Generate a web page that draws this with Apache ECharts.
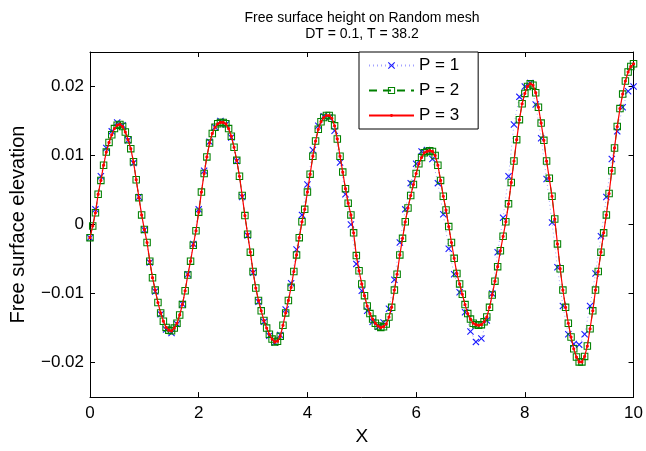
<!DOCTYPE html>
<html><head><meta charset="utf-8">
<script src="https://cdn.jsdelivr.net/npm/echarts@6/dist/echarts.min.js"></script>
<style>html,body{margin:0;padding:0;background:#fff}#c{width:646px;height:451px}</style>
</head><body><div id="c"></div>
<script>
// ---- data ----
const titleLines = ['Free surface height on Random mesh', 'DT = 0.1, T = 38.2'];
const seriesNames = ['P = 1', 'P = 2', 'P = 3'];
const xTicks = [0, 2, 4, 6, 8, 10];
const yTicks = [-0.02, -0.01, 0, 0.01, 0.02];

const xFine = [
0,0.05,0.1,0.15,0.2,0.25,0.3,0.35,0.4,0.45,
0.5,0.55,0.6,0.65,0.7,0.75,0.8,0.85,0.9,0.95,
1,1.05,1.1,1.15,1.2,1.25,1.3,1.35,1.4,1.45,
1.5,1.55,1.6,1.65,1.7,1.75,1.8,1.85,1.9,1.95,
2,2.05,2.1,2.15,2.2,2.25,2.3,2.35,2.4,2.45,
2.5,2.55,2.6,2.65,2.7,2.75,2.8,2.85,2.9,2.95,
3,3.05,3.1,3.15,3.2,3.25,3.3,3.35,3.4,3.45,
3.5,3.55,3.6,3.65,3.7,3.75,3.8,3.85,3.9,3.95,
4,4.05,4.1,4.15,4.2,4.25,4.3,4.35,4.4,4.45,
4.5,4.55,4.6,4.65,4.7,4.75,4.8,4.85,4.9,4.95,
5,5.05,5.1,5.15,5.2,5.25,5.3,5.35,5.4,5.45,
5.5,5.55,5.6,5.65,5.7,5.75,5.8,5.85,5.9,5.95,
6,6.05,6.1,6.15,6.2,6.25,6.3,6.35,6.4,6.45,
6.5,6.55,6.6,6.65,6.7,6.75,6.8,6.85,6.9,6.95,
7,7.05,7.1,7.15,7.2,7.25,7.3,7.35,7.4,7.45,
7.5,7.55,7.6,7.65,7.7,7.75,7.8,7.85,7.9,7.95,
8,8.05,8.1,8.15,8.2,8.25,8.3,8.35,8.4,8.45,
8.5,8.55,8.6,8.65,8.7,8.75,8.8,8.85,8.9,8.95,
9,9.05,9.1,9.15,9.2,9.25,9.3,9.35,9.4,9.45,
9.5,9.55,9.6,9.65,9.7,9.75,9.8,9.85,9.9,9.95,
10];

const p3Y = [
-0.0019,-0.0002,0.0017,0.0044,0.0064,0.0086,0.0105,0.0119,0.0130,0.0139,
0.0144,0.0145,0.0142,0.0134,0.0123,0.0110,0.0091,0.0065,0.0039,0.0014,
-0.0007,-0.0026,-0.0053,-0.0077,-0.0095,-0.0113,-0.0128,-0.0140,-0.0149,-0.0153,
-0.0154,-0.0150,-0.0143,-0.0131,-0.0116,-0.0096,-0.0073,-0.0053,-0.0030,-0.0009,
0.0018,0.0047,0.0074,0.0098,0.0118,0.0132,0.0141,0.0146,0.0148,0.0148,
0.0146,0.0139,0.0128,0.0112,0.0093,0.0070,0.0042,0.0013,-0.0014,-0.0040,
-0.0068,-0.0092,-0.0110,-0.0125,-0.0139,-0.0150,-0.0159,-0.0166,-0.0170,-0.0169,
-0.0162,-0.0146,-0.0128,-0.0110,-0.0091,-0.0068,-0.0044,-0.0019,0.0004,0.0022,
0.0047,0.0073,0.0099,0.0121,0.0138,0.0149,0.0155,0.0158,0.0158,0.0154,
0.0143,0.0124,0.0099,0.0076,0.0052,0.0031,0.0014,-0.0012,-0.0045,-0.0067,
-0.0086,-0.0103,-0.0118,-0.0129,-0.0137,-0.0143,-0.0147,-0.0149,-0.0148,-0.0144,
-0.0134,-0.0120,-0.0095,-0.0072,-0.0044,-0.0020,0.0004,0.0024,0.0042,0.0058,
0.0074,0.0088,0.0097,0.0104,0.0106,0.0107,0.0106,0.0100,0.0086,0.0064,
0.0041,0.0021,-0.0003,-0.0026,-0.0049,-0.0071,-0.0086,-0.0101,-0.0116,-0.0129,
-0.0137,-0.0143,-0.0145,-0.0146,-0.0145,-0.0141,-0.0134,-0.0120,-0.0102,-0.0082,
-0.0061,-0.0038,-0.0017,0.0004,0.0030,0.0061,0.0092,0.0123,0.0152,0.0175,
0.0190,0.0200,0.0204,0.0202,0.0191,0.0170,0.0147,0.0122,0.0092,0.0067,
0.0041,0.0008,-0.0028,-0.0064,-0.0095,-0.0120,-0.0143,-0.0163,-0.0180,-0.0192,
-0.0199,-0.0199,-0.0191,-0.0176,-0.0151,-0.0125,-0.0095,-0.0068,-0.0040,-0.0012,
0.0014,0.0045,0.0078,0.0111,0.0142,0.0168,0.0189,0.0208,0.0221,0.0229,
0.0233];

const p2Y = [
-0.0019,-0.0002,0.0017,0.0044,0.0064,0.0086,0.0105,0.0119,0.0130,0.0139,
0.0144,0.0145,0.0142,0.0134,0.0123,0.0110,0.0091,0.0065,0.0039,0.0014,
-0.0007,-0.0026,-0.0053,-0.0077,-0.0095,-0.0113,-0.0128,-0.0140,-0.0149,-0.0153,
-0.0154,-0.0150,-0.0143,-0.0131,-0.0116,-0.0096,-0.0073,-0.0053,-0.0030,-0.0009,
0.0018,0.0047,0.0074,0.0098,0.0118,0.0132,0.0141,0.0146,0.0148,0.0148,
0.0146,0.0139,0.0128,0.0112,0.0093,0.0070,0.0042,0.0013,-0.0014,-0.0040,
-0.0068,-0.0092,-0.0110,-0.0125,-0.0139,-0.0150,-0.0159,-0.0166,-0.0170,-0.0169,
-0.0162,-0.0146,-0.0128,-0.0110,-0.0091,-0.0068,-0.0044,-0.0019,0.0004,0.0022,
0.0047,0.0073,0.0099,0.0121,0.0138,0.0149,0.0155,0.0158,0.0158,0.0154,
0.0143,0.0124,0.0099,0.0076,0.0052,0.0031,0.0014,-0.0012,-0.0045,-0.0067,
-0.0086,-0.0103,-0.0118,-0.0129,-0.0137,-0.0143,-0.0147,-0.0149,-0.0148,-0.0144,
-0.0134,-0.0120,-0.0095,-0.0072,-0.0044,-0.0020,0.0004,0.0024,0.0042,0.0058,
0.0074,0.0088,0.0097,0.0104,0.0106,0.0107,0.0106,0.0100,0.0086,0.0064,
0.0041,0.0021,-0.0003,-0.0026,-0.0049,-0.0071,-0.0086,-0.0101,-0.0116,-0.0129,
-0.0137,-0.0143,-0.0145,-0.0146,-0.0145,-0.0141,-0.0134,-0.0120,-0.0102,-0.0082,
-0.0061,-0.0038,-0.0017,0.0004,0.0030,0.0061,0.0092,0.0123,0.0152,0.0175,
0.0190,0.0200,0.0204,0.0202,0.0191,0.0170,0.0147,0.0122,0.0092,0.0067,
0.0041,0.0008,-0.0028,-0.0064,-0.0095,-0.0120,-0.0143,-0.0163,-0.0180,-0.0192,
-0.0199,-0.0199,-0.0191,-0.0176,-0.0151,-0.0125,-0.0095,-0.0068,-0.0040,-0.0012,
0.0014,0.0045,0.0078,0.0111,0.0142,0.0168,0.0189,0.0208,0.0221,0.0229,
0.0233];

const xCoarse = [
0,0.1,0.2,0.3,0.4,0.5,0.6,0.7,0.8,0.9,
1,1.1,1.2,1.3,1.4,1.5,1.6,1.7,1.8,1.9,
2,2.1,2.2,2.3,2.4,2.5,2.6,2.7,2.8,2.9,
3,3.1,3.2,3.3,3.4,3.5,3.6,3.7,3.8,3.9,
4,4.1,4.2,4.3,4.4,4.5,4.6,4.7,4.8,4.9,
5,5.1,5.2,5.3,5.4,5.5,5.6,5.7,5.8,5.9,
6,6.1,6.2,6.3,6.4,6.5,6.6,6.7,6.8,6.9,
7,7.1,7.2,7.3,7.4,7.5,7.6,7.7,7.8,7.9,
8,8.1,8.2,8.3,8.4,8.5,8.6,8.7,8.8,8.9,
9,9.1,9.2,9.3,9.4,9.5,9.6,9.7,9.8,9.9,
10];

const p1Y = [
-0.0019,0.0022,0.0070,0.0111,0.0135,0.0148,0.0144,0.0122,0.0089,0.0040,
-0.0008,-0.0055,-0.0097,-0.0130,-0.0152,-0.0157,-0.0144,-0.0115,-0.0072,-0.0028,
0.0022,0.0078,0.0120,0.0141,0.0150,0.0145,0.0126,0.0092,0.0040,-0.0016,
-0.0070,-0.0112,-0.0141,-0.0161,-0.0171,-0.0160,-0.0123,-0.0085,-0.0036,0.0014,
0.0058,0.0108,0.0143,0.0157,0.0155,0.0136,0.0090,0.0044,0.0000,-0.0057,
-0.0096,-0.0125,-0.0141,-0.0148,-0.0142,-0.0122,-0.0080,-0.0026,0.0022,0.0060,
0.0088,0.0106,0.0108,0.0095,0.0060,0.0015,-0.0035,-0.0072,-0.0098,-0.0127,
-0.0155,-0.0170,-0.0165,-0.0139,-0.0100,-0.0040,0.0010,0.0070,0.0145,0.0185,
0.0200,0.0205,0.0174,0.0125,0.0066,0.0003,-0.0062,-0.0118,-0.0159,-0.0173,
-0.0174,-0.0159,-0.0118,-0.0071,-0.0017,0.0040,0.0095,0.0135,0.0170,0.0193,
0.0200];

// ---- chart ----
const FONT = '"Liberation Sans", Arial, Helvetica, sans-serif';
function pairs(xs, ys) { return xs.map((x, i) => [x, ys[i]]); }
const crossPath = 'path://M0,1.1L1.1,0L5,3.9L8.9,0L10,1.1L6.1,5L10,8.9L8.9,10L5,6.1L1.1,10L0,8.9L3.9,5Z';
const ringPath = 'path://M0,0H10V10H0Z M1.4,1.4V8.6H8.6V1.4Z';
const dotPath = 'path://M0,0L0.01,0M9.99,10L10,10M3,5A2,2,0,1,0,7,5A2,2,0,1,0,3,5Z';

const chart = echarts.init(document.getElementById('c'), null, {renderer: 'canvas'});
const axisCommon = {
  axisLine: {show: true, onZero: false, lineStyle: {color: '#000', width: 1}},
  axisTick: {show: true, inside: true, length: 5, lineStyle: {color: '#000', width: 1}},
  splitLine: {show: false}
};
const option = {
  animation: false,
  backgroundColor: '#fff',
  textStyle: {fontFamily: FONT},
  grid: {left: 88, top: 52, width: 549, height: 358, containLabel: false},
  graphic: [{
    type: 'text', x: 362, y: 10, silent: true,
    style: {text: titleLines.join('\n'), fill: '#000', font: '14px ' + FONT,
            textAlign: 'center', textVerticalAlign: 'top', lineHeight: 16}
  }],
  legend: {
    orient: 'vertical', left: 359, top: 52,
    padding: [5, 19, 5, 9], itemGap: 8, itemWidth: 45, itemHeight: 9,
    backgroundColor: '#fff', borderColor: '#000', borderWidth: 1, borderRadius: 0,
    textStyle: {fontSize: 17, color: '#000', fontFamily: FONT, lineHeight: 17},
    data: seriesNames
  },
  xAxis: [
    Object.assign({}, axisCommon, {
      type: 'value', min: xTicks[0], max: xTicks[xTicks.length - 1], interval: 2, position: 'bottom',
      axisLabel: {color: '#000', fontSize: 17, fontFamily: FONT, margin: 8},
      name: 'X', nameLocation: 'middle', nameGap: 25,
      nameTextStyle: {fontSize: 19, color: '#000', fontFamily: FONT}
    }),
    Object.assign({}, axisCommon, {
      type: 'value', min: xTicks[0], max: xTicks[xTicks.length - 1], interval: 2, position: 'top',
      axisLabel: {show: false}
    })
  ],
  yAxis: [
    Object.assign({}, axisCommon, {
      type: 'value', min: -0.025, max: 0.025, position: 'left',
      axisTick: {show: true, inside: true, length: 5, lineStyle: {color: '#000'}, customValues: yTicks},
      axisLabel: {color: '#000', fontSize: 17, fontFamily: FONT, margin: 6, customValues: yTicks,
                  formatter: v => String(v).replace('-', '\u2212')},
      name: 'Free surface elevation', nameLocation: 'middle', nameGap: 62,
      nameTextStyle: {fontSize: 20, color: '#000', fontFamily: FONT}
    }),
    Object.assign({}, axisCommon, {
      type: 'value', min: -0.025, max: 0.025, position: 'right',
      axisTick: {show: true, inside: true, length: 5, lineStyle: {color: '#000'}, customValues: yTicks},
      axisLabel: {show: false, customValues: yTicks}
    })
  ],
  series: [
    {
      name: seriesNames[0], type: 'line', data: pairs(xCoarse, p1Y),
      xAxisIndex: 0, yAxisIndex: 0, showAllSymbol: true,
      symbol: crossPath, symbolSize: 7,
      itemStyle: {color: '#1a1aff', borderWidth: 0},
      lineStyle: {color: '#7a7aff', width: 1, type: [1, 3], opacity: 0.7},
      emphasis: {disabled: true}, z: 2
    },
    {
      name: seriesNames[1], type: 'line', data: pairs(xFine, p2Y),
      xAxisIndex: 0, yAxisIndex: 0, showAllSymbol: true,
      symbol: ringPath, symbolSize: 7.5,
      itemStyle: {color: '#008000', borderWidth: 0},
      lineStyle: {color: '#008000', width: 1, type: [8, 6]},
      emphasis: {disabled: true}, z: 3
    },
    {
      name: seriesNames[2], type: 'line', data: pairs(xFine, p3Y),
      xAxisIndex: 0, yAxisIndex: 0, showAllSymbol: true,
      symbol: dotPath, symbolSize: 8,
      itemStyle: {color: '#ff0000', borderWidth: 0},
      lineStyle: {color: '#ff0000', width: 1.2},
      emphasis: {disabled: true}, z: 4
    }
  ]
};
chart.setOption(option);
</script>
</body></html>
